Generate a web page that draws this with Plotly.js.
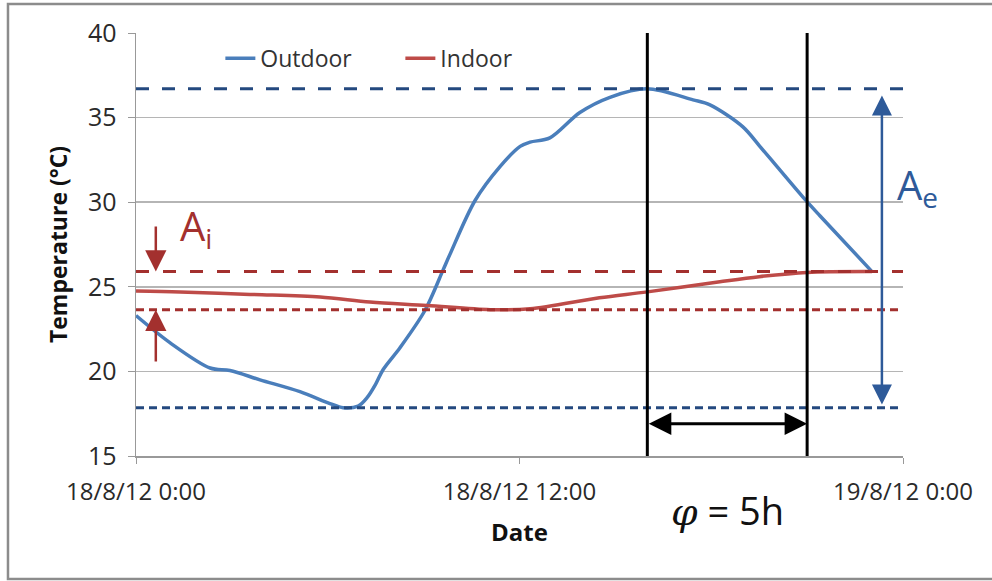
<!DOCTYPE html>
<html>
<head>
<meta charset="utf-8">
<script src="https://cdn.plot.ly/plotly-3.0.1.min.js"></script>
<style>html,body{margin:0;padding:0;background:#fff;}#chart{width:992px;height:581px;}</style>
</head>
<body>
<div id="chart"></div>
<script>
// Hours after 18/8/12 0:00
const outdoorHours = [0, 1.06, 2.32, 2.94, 3.88, 5.13, 6.07, 6.48, 6.95, 7.23, 7.5, 7.73, 8.26, 9.04, 9.61, 9.82, 10.61, 11.39, 12.02, 12.33, 12.95, 13.89, 14.83, 15.99, 17.43, 17.96, 18.99, 19.52, 20.06, 20.87, 21.4, 23.03];
const outdoorTemp  = [23.3, 21.7, 20.2, 20.05, 19.5, 18.8, 18.1, 17.85, 17.95, 18.45, 19.25, 20.1, 21.4, 23.6, 26.0, 26.9, 30.1, 32.1, 33.3, 33.55, 33.8, 35.3, 36.2, 36.7, 36.05, 35.75, 34.45, 33.3, 32.1, 30.3, 29.2, 25.9];
const indoorHours = [0, 1.38, 3.57, 5.76, 7.32, 9.1, 11.08, 12.33, 14.5, 16.0, 18.27, 19.5, 21.0, 23.03];
const indoorTemp  = [24.75, 24.7, 24.55, 24.4, 24.1, 23.9, 23.65, 23.7, 24.35, 24.7, 25.3, 25.6, 25.85, 25.9];
const tickHours = [0, 12, 24];
const tickLabels = ["18/8/12 0:00", "18/8/12 12:00", "19/8/12 0:00"];
const phaseHours = [16, 21];      // times of the two vertical markers
const phaseLabel = "5h";

const outMax = Math.max(...outdoorTemp), outMin = Math.min(...outdoorTemp);
const inMax = Math.max(...indoorTemp), inMin = Math.min(...indoorTemp);

const BLUE = '#4A7EBB', RED = '#BE4B48', DBLUE = '#24497F', DRED = '#A3302E';
const FONT = 'Open Sans, sans-serif';

const traces = [
  {x: outdoorHours, y: outdoorTemp, name: 'Outdoor', type: 'scatter', mode: 'lines',
   line: {color: BLUE, width: 3.5, shape: 'spline', smoothing: 0.9}},
  {x: indoorHours, y: indoorTemp, name: 'Indoor', type: 'scatter', mode: 'lines',
   line: {color: RED, width: 3.5, shape: 'spline', smoothing: 0.9}}
];

function hline(y, color, dash) {
  return {type: 'line', xref: 'x', yref: 'y', x0: 0, x1: 24, y0: y, y1: y,
          line: {color: color, width: 3, dash: dash}, layer: 'above'};
}

const shapes = [
  hline(outMax, DBLUE, '13px,13px'),
  hline(outMin, DBLUE, '8px,5px'),
  hline(inMax, DRED, '13px,14px'),
  hline(inMin, DRED, '8px,5px'),
  {type: 'line', xref: 'x', yref: 'paper', x0: phaseHours[0], x1: phaseHours[0], y0: 0, y1: 1, line: {color: '#000', width: 3}},
  {type: 'line', xref: 'x', yref: 'paper', x0: phaseHours[1], x1: phaseHours[1], y0: 0, y1: 1, line: {color: '#000', width: 3}},
  {type: 'rect', xref: 'paper', yref: 'paper', x0: -0.1669, x1: 1.13, y0: -0.2908, y1: 1.0686,
   line: {color: '#8c8c8c', width: 2.5}, layer: 'below'}
];

const annotations = [
  // A_i arrows
  {x: 0.62, y: inMax, ax: 0.62, ay: 28.65, xref: 'x', yref: 'y', axref: 'x', ayref: 'y', text: '',
   showarrow: true, arrowhead: 2, arrowsize: 1.7, arrowwidth: 2.5, arrowcolor: DRED},
  {x: 0.62, y: inMin, ax: 0.62, ay: 20.5, xref: 'x', yref: 'y', axref: 'x', ayref: 'y', text: '',
   showarrow: true, arrowhead: 2, arrowsize: 1.7, arrowwidth: 2.5, arrowcolor: DRED},
  {x: 1.31, y: 28.5, xref: 'x', yref: 'y', xanchor: 'left', yanchor: 'middle', showarrow: false,
   text: 'A<sub>i</sub>', font: {family: FONT, size: 40, color: DRED}},
  // A_e double arrow
  {x: 23.34, y: 36.3, ax: 23.34, ay: 17.95, xref: 'x', yref: 'y', axref: 'x', ayref: 'y', text: '',
   showarrow: true, arrowhead: 2, startarrowhead: 2, arrowside: 'end+start', arrowsize: 1.6, startarrowsize: 1.6,
   arrowwidth: 2.5, arrowcolor: '#2E5A99'},
  {x: 23.75, y: 30.9, xref: 'x', yref: 'y', xanchor: 'left', yanchor: 'middle', showarrow: false,
   text: 'A<sub>e</sub>', font: {family: FONT, size: 40, color: '#2E5A99'}},
  // phase shift arrow
  {x: phaseHours[1], y: 16.9, ax: phaseHours[0], ay: 16.9, xref: 'x', yref: 'y', axref: 'x', ayref: 'y', text: '',
   showarrow: true, arrowhead: 2, startarrowhead: 2, arrowside: 'end+start', arrowsize: 1.5, startarrowsize: 1.5,
   arrowwidth: 3, arrowcolor: '#000'},
  {x: (phaseHours[0] + phaseHours[1]) / 2, y: -0.128, xref: 'x', yref: 'paper', xanchor: 'center', yanchor: 'middle',
   showarrow: false, text: '<span style="font-family:DejaVu Serif"><i>φ</i></span> = ' + phaseLabel,
   font: {family: FONT, size: 38, color: '#111'}}
];

const layout = {
  width: 992, height: 581,
  margin: {l: 136, r: 89, t: 33, b: 125},
  paper_bgcolor: '#fff', plot_bgcolor: '#fff',
  showlegend: true,
  legend: {orientation: 'h', x: 0.11, y: 0.94, xanchor: 'left', yanchor: 'middle',
           font: {family: FONT, size: 23, color: '#333'}, bgcolor: 'rgba(0,0,0,0)',
           entrywidth: 135, entrywidthmode: 'pixels'},
  xaxis: {range: [0, 24], tickvals: tickHours, ticktext: tickLabels, ticks: 'outside', ticklen: 6,
          tickcolor: '#999', showgrid: false, zeroline: false, showline: true, linecolor: '#999', linewidth: 1.5,
          ticklabelstandoff: 8,
          tickfont: {family: FONT, size: 24, color: '#2a2a2a'},
          title: {text: '<b>Date</b>', font: {family: FONT, size: 24, color: '#111'}, standoff: 18}},
  yaxis: {range: [15, 40], dtick: 5, ticks: 'outside', ticklen: 7, tickcolor: '#999',
          showgrid: true, gridcolor: '#b5b5b5', gridwidth: 1.5, zeroline: false,
          showline: true, linecolor: '#999', linewidth: 1.5, ticklabelstandoff: 6,
          tickfont: {family: FONT, size: 25, color: '#2a2a2a'},
          title: {text: '<b>Temperature (°C)</b>', font: {family: FONT, size: 23, color: '#111'}, standoff: 14}},
  shapes: shapes,
  annotations: annotations
};

Plotly.newPlot('chart', traces, layout, {displayModeBar: false, staticPlot: true});
</script>
</body>
</html>
